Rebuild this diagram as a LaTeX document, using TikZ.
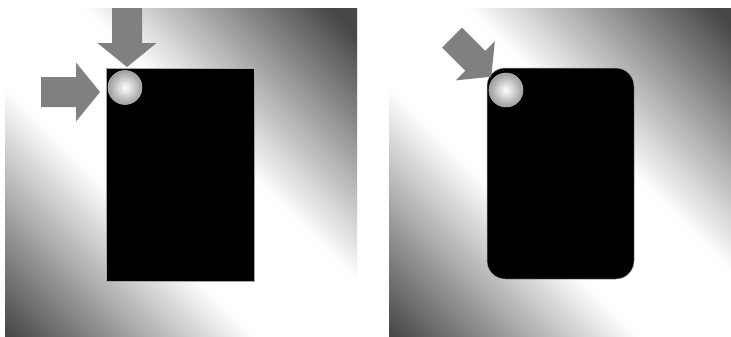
\documentclass[tikz,border=0pt]{standalone}
\colorlet{arrowgray}{black!50}
\tikzset{
    fatarrow/.pic={\fill[arrowgray] (0,-15) -- (35,-15) -- (35,-29.5) -- (59,0) -- (35,29.5) -- (35,15) -- (0,15) -- cycle;},
    % gradient square: white along the main diagonal, dark towards two corners
    panel/.pic={
        \clip (0,0) rectangle (352,352);
        \foreach \c in {-352,-348,...,348} {
            \pgfmathsetmacro{\shadeval}{72*min(1,max(0,(abs(\c+2)/352-0.22)/0.7))}
            \fill[black!\shadeval] (\c,0) -- (\c+5,0) -- (\c+357,352) -- (\c+352,352) -- cycle;
        }
    }
}
\begin{document}
\begin{tikzpicture}[
    x=0.02cm, y=-0.02cm,
    card/.style={fill=black, draw=black!35, line width=0.01cm},
    ball/.style={inner color=white, outer color=black!38, draw=black!25, line width=0.3pt}
]
    \useasboundingbox (0,0) rectangle (731,336);
    \clip (0,0) rectangle (731,336);

    % left: square corner, pressed from two sides
    \begin{scope}
        \pic at (5,8) {panel};
    \end{scope}
    \filldraw [card] (106,68) rectangle (254,281);
    \shade [ball] (125,87.5) circle [radius=17];
    \pic [rotate=-90] at (127,8) {fatarrow};
    \pic at (41,92) {fatarrow};

    % right: rounded corner, pressed along the diagonal
    \begin{scope}
        \pic at (389,8) {panel};
    \end{scope}
    \filldraw [card, rounded corners=0.36cm] (487,68) rectangle (634,279);
    \shade [ball] (506,90) circle [radius=17];
    \pic [rotate=-45, scale=0.94] at (452,37.5) {fatarrow};
\end{tikzpicture}
\end{document}
